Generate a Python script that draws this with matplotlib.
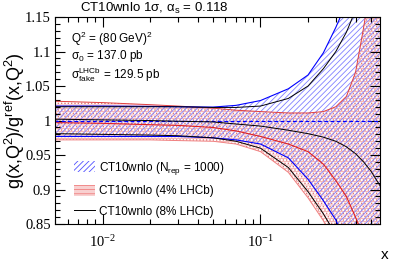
import matplotlib
matplotlib.use('Agg')
import matplotlib.pyplot as plt
from matplotlib.patches import Patch
from matplotlib.lines import Line2D
from matplotlib.ticker import FixedLocator, MultipleLocator, NullFormatter

# x grid and curves
x = [0.005, 0.01, 0.02, 0.03, 0.05, 0.07, 0.1, 0.15, 0.2, 0.25, 0.3, 0.35, 0.4, 0.45, 0.5, 0.57]

blue_up = [1.021, 1.021, 1.0205, 1.020, 1.0195, 1.022, 1.029, 1.046, 1.066, 1.098, 1.135, 1.17, 1.22, 1.28, 1.35, 1.45]
blue_lo = [0.977, 0.977, 0.977, 0.977, 0.975, 0.972, 0.966, 0.946, 0.915, 0.884, 0.856, 0.82, 0.78, 0.74, 0.70, 0.64]

red_up = [1.028, 1.026, 1.023, 1.021, 1.018, 1.015, 1.013, 1.011, 1.011, 1.013, 1.020, 1.035, 1.07, 1.135, 1.2, 1.3]
red_lo = [0.972, 0.972, 0.972, 0.971, 0.970, 0.966, 0.955, 0.925, 0.888, 0.855, 0.82, 0.78, 0.74, 0.70, 0.66, 0.60]
red_mid = [0.997, 0.996, 0.994, 0.993, 0.990, 0.985, 0.977, 0.966, 0.955, 0.937, 0.913, 0.89, 0.86, 0.83, 0.80, 0.75]

blk_up = [1.020, 1.020, 1.020, 1.020, 1.019, 1.019, 1.021, 1.032, 1.050, 1.075, 1.100, 1.128, 1.16, 1.20, 1.25, 1.33]
blk_lo = [0.981, 0.980, 0.979, 0.978, 0.975, 0.970, 0.960, 0.932, 0.897, 0.865, 0.835, 0.80, 0.76, 0.72, 0.68, 0.62]
blk_mid = [1.002, 1.001, 1.0, 0.999, 0.998, 0.995, 0.992, 0.986, 0.981, 0.976, 0.970, 0.962, 0.952, 0.940, 0.927, 0.906]

labels = ['CT10wnlo (N$_{\\mathregular{rep}}$ = 1000)', 'CT10wnlo (4% LHCb)', 'CT10wnlo (8% LHCb)']

plt.rcParams['font.family'] = ['Liberation Sans', 'DejaVu Sans']
plt.rcParams['hatch.linewidth'] = 0.6

fig = plt.figure(figsize=(3.99, 2.70), dpi=100)
ax = fig.add_axes([0.138, 0.170, 0.814, 0.767])

ax.fill_between(x, red_lo, red_up, facecolor='none', edgecolor='#f4a0a0', hatch='-----', linewidth=0)
ax.fill_between(x, red_lo, red_up, facecolor='none', edgecolor='#e07878', hatch='.....', linewidth=0)
ax.fill_between(x, blue_lo, blue_up, facecolor='none', edgecolor='#8080ff', hatch='//////', linewidth=0)

ax.plot(x, red_up, color='#e04040', lw=0.7)
ax.plot(x, red_lo, color='#f08080', lw=0.7)
ax.plot(x, red_mid, color='#e02020', lw=0.8)
ax.plot(x, blue_up, color='blue', lw=0.8)
ax.plot(x, blue_lo, color='blue', lw=0.8)
ax.axhline(1.0, color='blue', lw=0.9, ls=(0, (3, 2)))
ax.plot(x, blk_up, color='black', lw=0.7)
ax.plot(x, blk_lo, color='black', lw=0.7)
ax.plot(x, blk_mid, color='black', lw=0.7)

ax.set_xscale('log')
ax.set_xlim(0.005, 0.57)
ax.set_ylim(0.85, 1.15)

ax.yaxis.set_minor_locator(MultipleLocator(0.01))
ax.set_yticks([0.85, 0.9, 0.95, 1.0, 1.05, 1.1, 1.15])
ax.set_yticklabels(['0.85', '0.9', '0.95', '1', '1.05', '1.1', '1.15'], family='Liberation Serif', fontsize=10.5)
ax.xaxis.set_major_locator(FixedLocator([0.01, 0.1]))
ax.set_xticklabels(['$\\mathregular{10^{-2}}$', '$\\mathregular{10^{-1}}$'], family='Liberation Serif', fontsize=10.5)
ax.xaxis.set_minor_formatter(NullFormatter())
ax.tick_params(which='both', direction='in', top=True, right=True, width=0.8)
ax.tick_params(which='major', length=7)
ax.tick_params(which='minor', length=3.5)
ax.tick_params(axis='x', pad=7)
ax.tick_params(axis='y', pad=3)

ax.set_ylabel('g(x,Q$^{\\mathregular{2}}$)/g$^{\\mathregular{ref}}$(x,Q$^{\\mathregular{2}}$)', fontsize=13)
ax.yaxis.set_label_coords(-0.085, 0.5)
fig.text(0.965, 0.04, 'x', fontsize=11, ha='center')

fig.text(0.2, 0.955, 'CT10wnlo 1σ, α$_{\\mathregular{s}}$ = 0.118', fontsize=9.5)
ax.text(0.05, 0.875, 'Q$^{\\mathregular{2}}$ = (80 GeV)$^{\\mathregular{2}}$', transform=ax.transAxes, fontsize=8.5)
ax.text(0.05, 0.795, 'σ$_{\\mathregular{0}}$ = 137.0 pb', transform=ax.transAxes, fontsize=8.5)
ax.text(0.05, 0.705, 'σ$_{\\mathregular{fake}}^{\\mathregular{LHCb}}$ = 129.5 pb', transform=ax.transAxes, fontsize=8.5)

handles = [Patch(facecolor='none', edgecolor='#5050ff', hatch='//////', linewidth=0),
           Patch(facecolor='#f8d0d0', edgecolor='#f08080', hatch='----', linewidth=0),
           Line2D([], [], color='black', lw=0.7)]
ax.legend(handles, labels, loc='lower left', bbox_to_anchor=(0.025, -0.02), frameon=False,
          fontsize=8.5, handlelength=1.8, handleheight=1.1, labelspacing=0.65, handletextpad=0.3)

fig.savefig('out.png', dpi=100)
